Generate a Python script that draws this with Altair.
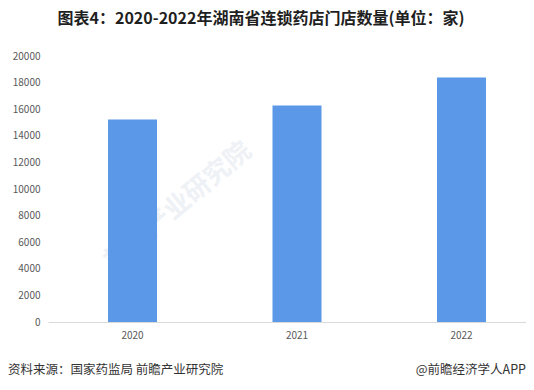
import altair as alt
import pandas as pd

years = ["2020", "2021", "2022"]
stores = [15220, 16280, 18390]
y_ticks = [0, 2000, 4000, 6000, 8000, 10000, 12000, 14000, 16000, 18000, 20000]
title_text = "图表4：2020-2022年湖南省连锁药店门店数量(单位：家)"
source_text = ["资料来源：国家药监局 前瞻产业研究院"]
brand_text = ["@前瞻经济学人APP"]
watermark_text = ["前瞻产业研究院"]

df = pd.DataFrame({"year": years, "stores": stores})

FONT = "Noto Sans CJK SC"

bars = alt.Chart(df).mark_bar(color="#5B98E8").encode(
    x=alt.X(
        "year:N",
        sort=years,
        scale=alt.Scale(paddingInner=0.702, paddingOuter=0.304, align=0.6),
        axis=alt.Axis(
            title=None, labelAngle=0, ticks=False, domainColor="#d9d9d9",
            labelColor="#595959", labelFontSize=10, labelPadding=8, labelFont=FONT,
        ),
    ),
    y=alt.Y(
        "stores:Q",
        scale=alt.Scale(domain=[0, 20000], nice=False),
        axis=alt.Axis(
            title=None, values=y_ticks, format="d", grid=False, domain=False, ticks=False,
            labelColor="#595959", labelFontSize=10, labelPadding=8, labelFont=FONT,
        ),
    ),
)

watermark = alt.Chart(pd.DataFrame({"t": watermark_text})).mark_text(
    font=FONT, fontSize=26, fontWeight="bold", color="#eef1f5", angle=320
).encode(x=alt.value(130), y=alt.value(150), text="t:N")

source = alt.Chart(pd.DataFrame({"t": source_text})).mark_text(
    font=FONT, fontSize=12.5, color="#333333", align="left", baseline="middle"
).encode(x=alt.value(-40), y=alt.value(314), text="t:N")

brand = alt.Chart(pd.DataFrame({"t": brand_text})).mark_text(
    font=FONT, fontSize=12.5, color="#333333", align="right", baseline="middle"
).encode(x=alt.value(478), y=alt.value(314), text="t:N")

chart = alt.layer(watermark, bars, source, brand).properties(
    width=478,
    height=266,
    padding={"left": 40, "top": 48, "right": 0, "bottom": 60},
    autosize=alt.AutoSizeParams(type="none"),
    background="white",
    title=alt.TitleParams(
        text=title_text, anchor="middle", dx=-26, offset=16, baseline="middle",
        font=FONT, fontSize=16, fontWeight="bold", color="#1f1f1f",
    ),
).configure_view(stroke=None)

chart.save("out.html", embed_options={"renderer": "svg", "actions": False})
